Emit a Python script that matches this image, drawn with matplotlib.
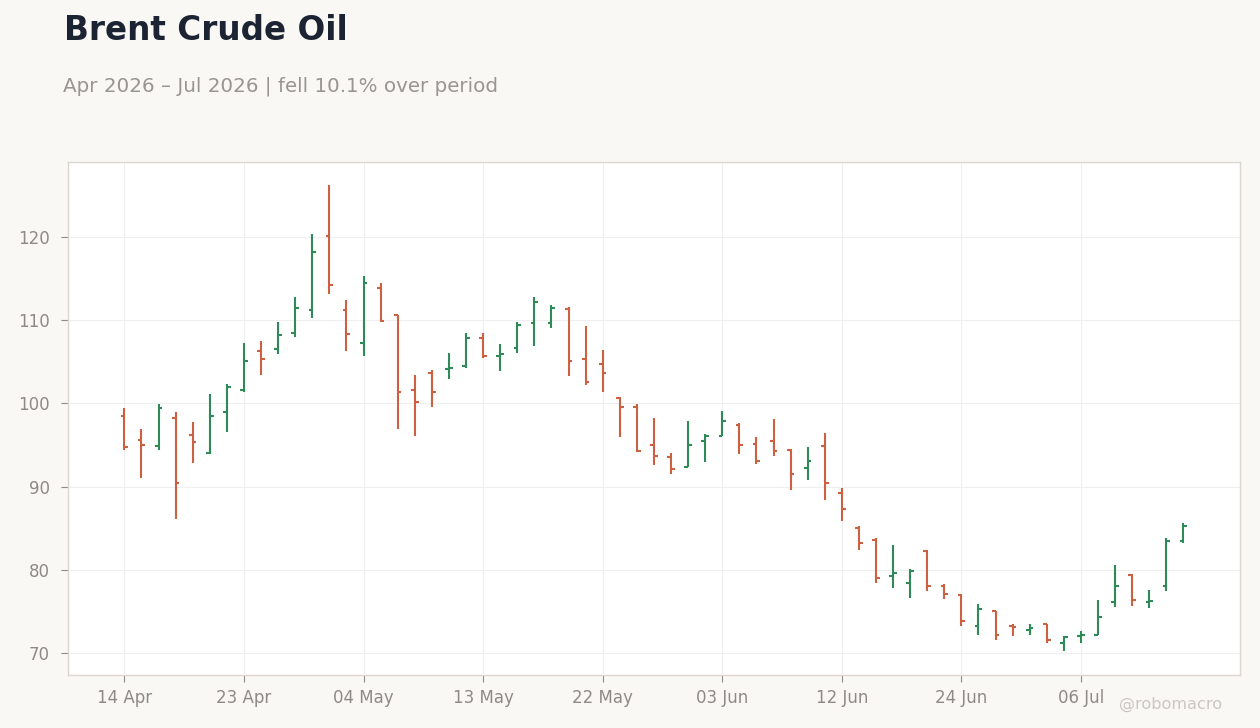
import matplotlib
matplotlib.use('Agg')
import matplotlib.pyplot as plt
import pandas as pd

# daily OHLC (US trading days from 14 Apr 2026)
opens = [98.5, 95.6, 94.9, 98.2, 96.2, 94.0, 99.0, 101.6, 106.3, 106.5,
         108.4, 111.2, 120.1, 111.2, 107.2, 113.9, 110.6, 101.6, 103.7, 104.1,
         104.5, 107.8, 105.7, 106.7, 109.7, 109.6, 111.3, 105.3, 104.7, 100.6,
         99.5, 95.0, 93.5, 92.4, 95.5, 96.1, 97.4, 95.1, 95.5, 94.4,
         92.2, 94.9, 89.2, 85.0, 83.6, 79.3, 78.4, 82.3, 78.1, 77.0,
         73.2, 75.0, 73.2, 72.7, 73.5, 71.2, 72.0, 72.2, 76.1, 79.4,
         76.1, 78.1, 83.4]
highs = [99.4, 96.9, 99.9, 98.9, 97.8, 101.1, 102.3, 107.3, 107.5, 109.8,
         112.8, 120.4, 126.2, 112.4, 115.3, 114.5, 110.6, 103.4, 104.0, 106.1,
         108.5, 108.4, 107.1, 109.8, 112.8, 111.8, 111.6, 109.3, 106.4, 100.8,
         99.9, 98.2, 94.0, 97.9, 96.3, 99.1, 97.6, 95.9, 98.1, 94.5,
         94.7, 96.4, 89.8, 85.2, 83.8, 83.0, 80.1, 82.4, 78.3, 77.1,
         75.9, 75.1, 73.5, 73.5, 73.5, 72.0, 72.6, 76.4, 80.6, 79.5,
         77.6, 83.8, 85.6]
lows = [94.4, 91.0, 94.4, 86.1, 92.8, 93.9, 96.5, 101.4, 103.4, 105.9,
        108.0, 110.3, 113.1, 106.3, 105.7, 109.8, 96.9, 96.1, 99.6, 102.9,
        104.2, 105.4, 103.9, 106.1, 106.9, 109.0, 103.3, 102.2, 101.4, 96.0,
        94.2, 92.6, 91.5, 92.4, 92.9, 96.1, 93.9, 92.7, 93.7, 89.6,
        90.8, 88.4, 85.9, 82.4, 78.4, 77.8, 76.6, 77.4, 76.5, 73.2,
        72.1, 71.5, 72.0, 72.2, 71.2, 70.2, 71.2, 72.1, 75.5, 75.7,
        75.4, 77.4, 83.2]
closes = [94.8, 95.0, 99.4, 90.4, 95.4, 98.5, 102.0, 105.1, 105.3, 108.2,
          111.4, 118.2, 114.2, 108.3, 114.5, 109.9, 101.3, 100.1, 101.4, 104.3,
          107.9, 105.7, 105.9, 109.4, 112.2, 111.4, 105.1, 102.6, 103.6, 99.6,
          94.3, 93.7, 92.1, 95.0, 96.1, 97.9, 95.0, 93.1, 94.3, 91.5,
          93.1, 90.4, 87.3, 83.2, 79.0, 79.6, 79.9, 78.0, 77.1, 73.8,
          75.3, 72.1, 73.1, 73.0, 71.6, 71.9, 72.2, 74.3, 78.1, 76.4,
          76.2, 83.4, 85.2]

holidays = ['2026-05-25', '2026-06-19', '2026-07-03']
dates = pd.bdate_range('2026-04-14', periods=len(opens), freq='C', holidays=holidays)

UP = '#2e8b57'
DOWN = '#cc6040'
BG = '#f9f8f5'


def init():
    fig = plt.figure(figsize=(12.6, 7.28), dpi=100)
    fig.patch.set_facecolor(BG)
    ax = fig.add_axes([0.054, 0.0728, 0.93, 0.7047])
    ax.set_facecolor('white')
    for s in ax.spines.values():
        s.set_color('#dcd6d0')
        s.set_linewidth(1.0)
    ax.grid(True, color='#efefef', linewidth=0.8)
    ax.set_axisbelow(True)
    ax.tick_params(colors='#8f8a85', labelsize=12, length=5, width=0.8)
    ax.tick_params(axis='y', pad=8)
    ax.tick_params(axis='x', pad=5)
    return fig, ax


def plot():
    fig, ax = init()
    x = list(range(len(opens)))
    w = 0.22
    for i in x:
        c = UP if closes[i] >= opens[i] else DOWN
        ax.vlines(i, lows[i], highs[i], color=c, linewidth=1.5)
        ax.hlines(opens[i], i - w, i, color=c, linewidth=1.5)
        ax.hlines(closes[i], i, i + w, color=c, linewidth=1.5)

    ax.set_xlim(-3.3, len(opens) + 2.3)
    ax.set_ylim(67.35, 129.0)
    ax.set_yticks([70, 80, 90, 100, 110, 120])
    ticks = x[::7]
    ax.set_xticks(ticks)
    ax.set_xticklabels([dates[i].strftime('%d %b') for i in ticks])

    chg = (closes[-1] / closes[0] - 1) * 100
    fig.text(0.0505, 1 - 40 / 728, 'Brent Crude Oil', fontsize=23.5,
             fontweight='bold', color='#1c2433', va='baseline')
    fig.text(0.05, 1 - 92 / 728,
             'Apr 2026 \u2013 Jul 2026 | fell %.1f%% over period' % abs(chg),
             fontsize=14.3, color='#999590', va='baseline')
    fig.text(0.97, 1 - 709 / 728, '@robomacro', fontsize=11.6,
             color='#cbc7c2', ha='right', va='baseline')
    fig.savefig('out.png', dpi=100, facecolor=BG)


if __name__ == '__main__':
    plot()
